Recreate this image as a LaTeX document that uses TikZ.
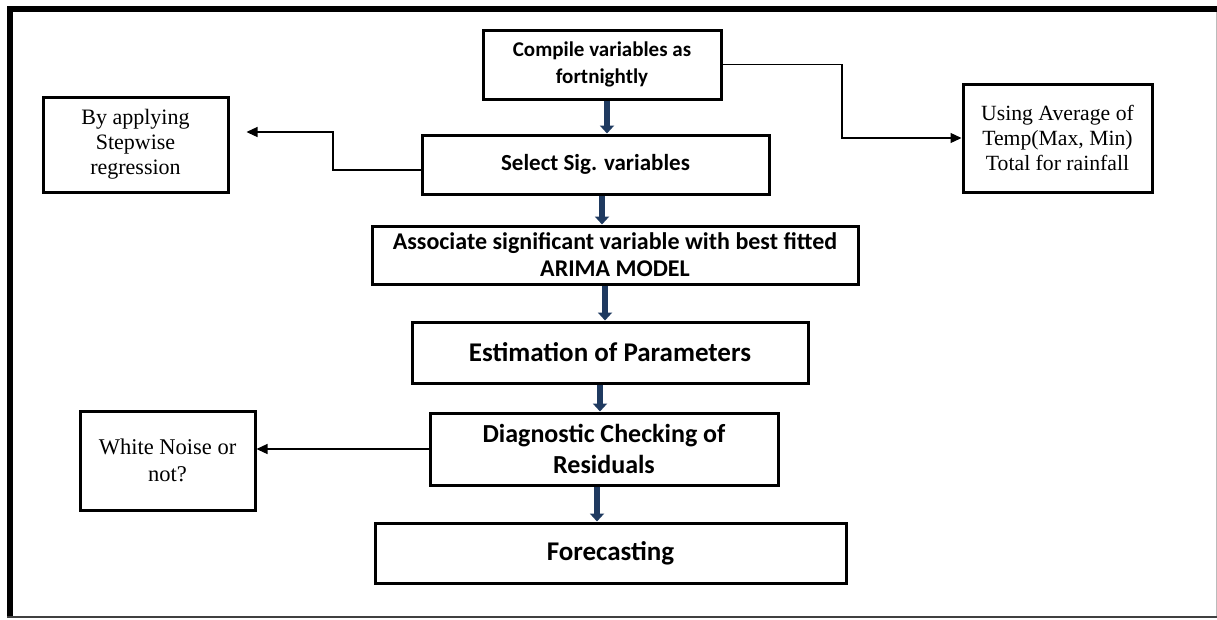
\documentclass[tikz,border=0pt]{standalone}
\usepackage{fontspec}
\setmainfont{Liberation Serif}
\newfontfamily\calibri{Carlito}
\usetikzlibrary{arrows.meta}
\definecolor{navy}{HTML}{1F3A60}
\definecolor{framegrey}{HTML}{BBBBBB}
\begin{document}
\begin{tikzpicture}[x=1pt,y=-1pt,
  mainbox/.style={draw,line width=3pt,inner sep=0pt,align=center,font=\calibri\bfseries},
  sidebox/.style={draw,line width=3pt,inner sep=0pt,align=center},
  flow/.style={navy,line width=6pt,-{Triangle[width=14pt,length=8pt]}},
  link/.style={line width=1.2pt,-{Triangle[width=10pt,length=11pt]}}]
\useasboundingbox (0,0) rectangle (1217,619);
% frame
\draw[line width=6pt] (7,9) -- (1217,9);
\draw[line width=6pt] (10,6) -- (10,617);
\draw[line width=2pt,black!75] (7,617) -- (1217,617);
\draw[line width=1pt,framegrey] (1216,12) -- (1216,616);
% main boxes
\node[mainbox,minimum width=238pt,minimum height=69pt,font=\calibri\bfseries\fontsize{21}{27}\selectfont] (compile) at (602,64.5) {Compile variables as\\fortnightly};
\node[mainbox,minimum width=347pt,minimum height=59pt,font=\calibri\bfseries\fontsize{23}{28}\selectfont] (select) at (595.5,164.5) {Select Sig. variables};
\node[mainbox,minimum width=486pt,minimum height=58pt,font=\calibri\bfseries\fontsize{24}{27}\selectfont] (assoc) at (615,255) {Associate significant variable with best fitted\\ARIMA MODEL};
\node[mainbox,minimum width=396pt,minimum height=61pt,font=\calibri\bfseries\fontsize{27}{32}\selectfont] (estim) at (610,352.5) {Estimation of Parameters};
\node[mainbox,minimum width=348pt,minimum height=72pt,font=\calibri\bfseries\fontsize{26}{31}\selectfont] (diag) at (604,449) {Diagnostic Checking of\\Residuals};
\node[mainbox,minimum width=471pt,minimum height=60pt,font=\calibri\bfseries\fontsize{27}{32}\selectfont] (fore) at (610.5,553) {Forecasting};
% side boxes
\node[sidebox,minimum width=185pt,minimum height=95pt,font=\fontsize{22}{25}\selectfont] (step) at (135.5,144.5) {By applying\\Stepwise\\regression};
\node[sidebox,minimum width=189pt,minimum height=108pt,font=\fontsize{21.7}{25}\selectfont] (avg) at (1057.5,138) {Using Average of\\Temp(Max, Min)\\Total for rainfall};
\node[sidebox,minimum width=175pt,minimum height=99pt,font=\fontsize{22.5}{27}\selectfont] (noise) at (167.5,460.5) {White Noise or\\not?};
% flow arrows
\coordinate (f1) at (607,0);
\coordinate (f2) at (602,0);
\coordinate (f3) at (605,0);
\coordinate (f4) at (600,0);
\coordinate (f5) at (597,0);
\draw[flow] (compile.south -| f1) -- (select.north -| f1);
\draw[flow] (select.south -| f2) -- (assoc.north -| f2);
\draw[flow] (assoc.south -| f3) -- (estim.north -| f3);
\draw[flow] (estim.south -| f4) -- (diag.north -| f4);
\draw[flow] (diag.south -| f5) -- (fore.north -| f5);
% side connectors
\coordinate (k1) at (842,100);
\draw[link] (compile.east) -| (k1) |- (avg.west);
\coordinate (s1) at (333,170);
\coordinate (s2) at (333,132);
\draw[link,shorten >=17pt] (select.west |- s1) -- (s1) -- (s2) -- (step.east |- s2);
\draw[link] (diag.west) -- (noise.east |- diag.west);
\end{tikzpicture}
\end{document}
